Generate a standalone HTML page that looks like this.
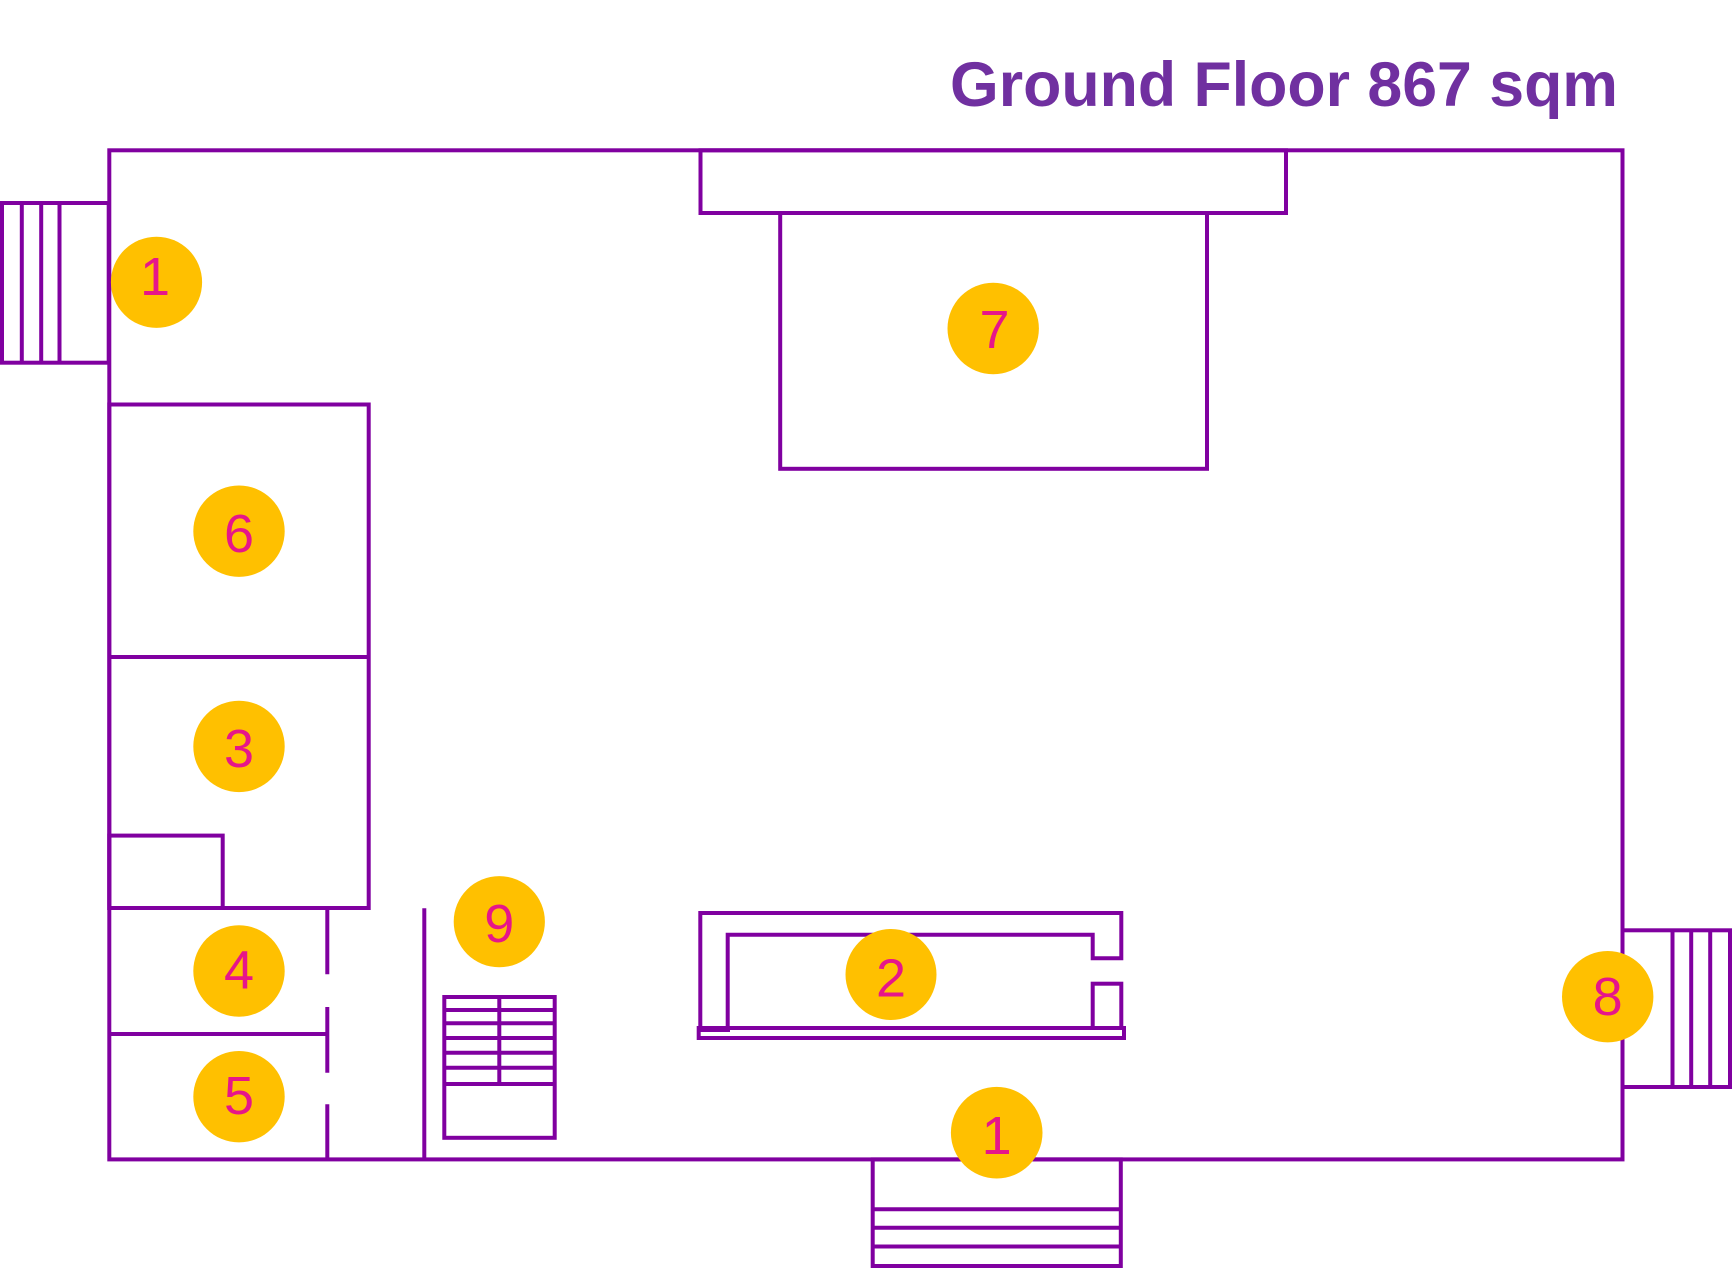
<!DOCTYPE html>
<html>
<head>
<meta charset="utf-8">
<style>
  html, body { margin:0; padding:0; background:#ffffff; }
  body { width:1732px; height:1269px; overflow:hidden; }
  svg { display:block; }
</style>
</head>
<body>
<svg width="1732" height="1269" viewBox="0 0 1732 1269" xmlns="http://www.w3.org/2000/svg">
  <rect x="0" y="0" width="1732" height="1269" fill="#ffffff"/>

  <!-- Title -->
  <text x="950" y="106" font-family="Liberation Sans, Arial, sans-serif" font-weight="bold" font-size="63" fill="#7030A0" textLength="668" lengthAdjust="spacingAndGlyphs">Ground Floor 867 sqm</text>

  <g fill="none" stroke="#8000A0" stroke-width="4">
    <!-- Outer walls -->
    <rect x="109.3" y="150.3" width="1513.2" height="1009.1"/>
    <!-- Top rect -->
    <rect x="700.5" y="150.3" width="585.5" height="62.7"/>
    <!-- Room 7 -->
    <rect x="780.2" y="213" width="426.8" height="255.8"/>

    <!-- Left stairs -->
    <rect x="2" y="203" width="106.7" height="159.7"/>
    <line x1="21.8" y1="203" x2="21.8" y2="362.7"/>
    <line x1="41.2" y1="203" x2="41.2" y2="362.7"/>
    <line x1="59.5" y1="203" x2="59.5" y2="362.7"/>

    <!-- Rooms 6 & 3 -->
    <rect x="109.3" y="404.5" width="259.4" height="503.5"/>
    <line x1="109.3" y1="657" x2="368.7" y2="657"/>
    <rect x="109.3" y="835.6" width="113.4" height="72.4"/>

    <!-- Rooms 4 & 5 -->
    <line x1="109.3" y1="1034" x2="327.3" y2="1034"/>
    <line x1="327.3" y1="908" x2="327.3" y2="974.3"/>
    <line x1="327.3" y1="1007" x2="327.3" y2="1072.7"/>
    <line x1="327.3" y1="1104.3" x2="327.3" y2="1159.4"/>

    <!-- Partition line -->
    <line x1="424.3" y1="908.3" x2="424.3" y2="1159.4"/>

    <!-- Stair 9 -->
    <rect x="444.3" y="997" width="110.4" height="140.8"/>
    <line x1="444.3" y1="1010" x2="554.7" y2="1010"/>
    <line x1="444.3" y1="1023.3" x2="554.7" y2="1023.3"/>
    <line x1="444.3" y1="1038" x2="554.7" y2="1038"/>
    <line x1="444.3" y1="1052.7" x2="554.7" y2="1052.7"/>
    <line x1="444.3" y1="1067.7" x2="554.7" y2="1067.7"/>
    <line x1="444.3" y1="1084" x2="554.7" y2="1084"/>
    <line x1="499.3" y1="997" x2="499.3" y2="1084"/>

    <!-- Room 2 structure -->
    <path d="M700.3,1028 V913 H1121.3 V958.3 H1092.7 V934.8 H727.7 V1030"/>
    <rect x="1092.7" y="983.7" width="28.6" height="44.3"/>
    <rect x="698.7" y="1028" width="425.3" height="10"/>

    <!-- Right stairs -->
    <rect x="1622.5" y="930.3" width="107.5" height="156.7"/>
    <line x1="1672.5" y1="930.3" x2="1672.5" y2="1087"/>
    <line x1="1691.2" y1="930.3" x2="1691.2" y2="1087"/>
    <line x1="1710.2" y1="930.3" x2="1710.2" y2="1087"/>

    <!-- Bottom stairs -->
    <rect x="872.7" y="1159.4" width="248.1" height="106.6"/>
    <line x1="872.7" y1="1209.3" x2="1120.8" y2="1209.3"/>
    <line x1="872.7" y1="1227.7" x2="1120.8" y2="1227.7"/>
    <line x1="872.7" y1="1246.5" x2="1120.8" y2="1246.5"/>
  </g>
  <rect x="697.3" y="1026" width="32.7" height="6" fill="#8000A0"/>

  <!-- Number markers -->
  <g fill="#FFC000">
    <circle cx="156.5" cy="282.3" r="45.6"/>
    <circle cx="993.2" cy="328.5" r="45.7"/>
    <circle cx="239" cy="531.2" r="45.7"/>
    <circle cx="239" cy="746.4" r="45.7"/>
    <circle cx="499.3" cy="921.7" r="45.6"/>
    <circle cx="239" cy="971" r="45.7"/>
    <circle cx="891" cy="974.5" r="45.5"/>
    <circle cx="1607.7" cy="996.7" r="45.7"/>
    <circle cx="239" cy="1096.7" r="45.7"/>
    <circle cx="996.7" cy="1132.7" r="45.8"/>
  </g>
  <g font-family="Liberation Sans, Arial, sans-serif" font-size="54" fill="#E6168A" text-anchor="middle">
    <text x="155" y="295">1</text>
    <text x="994.5" y="348">7</text>
    <text x="239" y="552">6</text>
    <text x="239" y="767">3</text>
    <text x="499.3" y="942">9</text>
    <text x="239" y="988.5">4</text>
    <text x="891" y="996.5">2</text>
    <text x="1607.7" y="1015">8</text>
    <text x="239" y="1114">5</text>
    <text x="996.7" y="1154">1</text>
  </g>
</svg>
</body>
</html>
